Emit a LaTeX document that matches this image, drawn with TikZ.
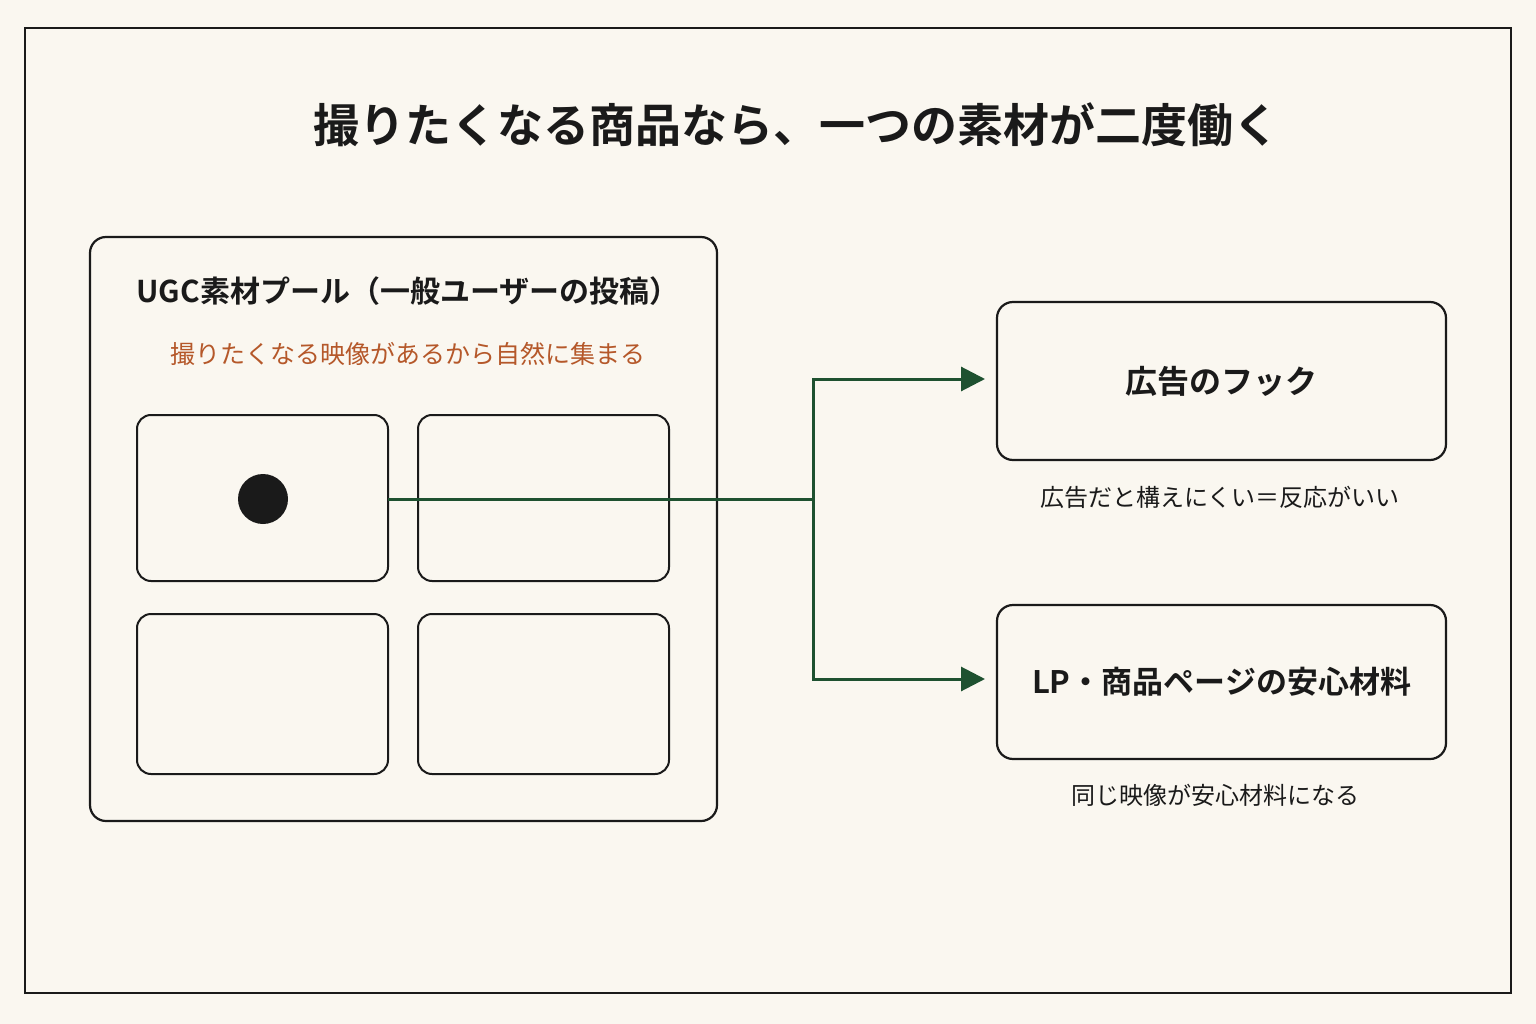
\documentclass[tikz,border=0pt]{standalone}
\usepackage{fontspec}
\setmainfont{Noto Sans CJK JP}
\newfontfamily\jpb{Noto Sans CJK JP Bold}
\usetikzlibrary{arrows.meta}
\definecolor{bg}{HTML}{FAF7F0}
\definecolor{ink}{HTML}{1A1A1A}
\definecolor{grn}{HTML}{1E5130}
\definecolor{org}{HTML}{B5582A}
\begin{document}
\begin{tikzpicture}[x=1pt,y=-1pt,
  box/.style={draw=ink,line width=2.2pt,rounded corners=16pt},
  tile/.style={draw=ink,line width=2pt,rounded corners=14pt},
  conn/.style={draw=grn,line width=3pt},
  arr/.style={conn,-{Triangle[length=24pt,width=24pt]}}]
\fill[bg] (0,0) rectangle (1536,1024);
\useasboundingbox (0,0) rectangle (1536,1024);
\draw[ink,line width=2pt] (25,28) rectangle (1511,993);
\node[font=\jpb\fontsize{46}{52}\selectfont,text=ink] (title) at (796,125) {撮りたくなる商品なら、一つの素材が二度働く};
\draw[box] (90,237) rectangle (717,821);
\node[font=\jpb\fontsize{30}{36}\selectfont,text=ink] (pool) at (408,291) {UGC素材プール（一般ユーザーの投稿）};
\node[font=\fontsize{25}{30}\selectfont,text=org] (sub) at (408,354) {撮りたくなる映像があるから自然に集まる};
\draw[tile] (137,415) rectangle (388,581);
\draw[tile] (418,415) rectangle (669,581);
\draw[tile] (137,614) rectangle (388,774);
\draw[tile] (418,614) rectangle (669,774);
\node[circle,fill=ink,minimum size=50pt,inner sep=0] (dot) at (263,499) {};
\coordinate (src) at (388,499);
\coordinate (j) at (813,499);
\node[box,minimum width=449pt,minimum height=158pt,font=\jpb\fontsize{32}{38}\selectfont,text=ink] (hook) at (1221.5,381) {広告のフック};
\node[box,minimum width=449pt,minimum height=154pt,font=\jpb\fontsize{31}{37}\selectfont,text=ink] (lp) at (1221.5,682) {LP・商品ページの安心材料};
\coordinate (t1) at (985,379);
\coordinate (t2) at (985,679);
\node[font=\fontsize{24}{28}\selectfont,text=ink] (c1) at (1220,497) {広告だと構えにくい＝反応がいい};
\node[font=\fontsize{24}{28}\selectfont,text=ink] (c2) at (1215,795) {同じ映像が安心材料になる};
\draw[conn] (src) -- (j);
\draw[arr] (j) |- (t1);
\draw[arr] (j) |- (t2);
\end{tikzpicture}
\end{document}
